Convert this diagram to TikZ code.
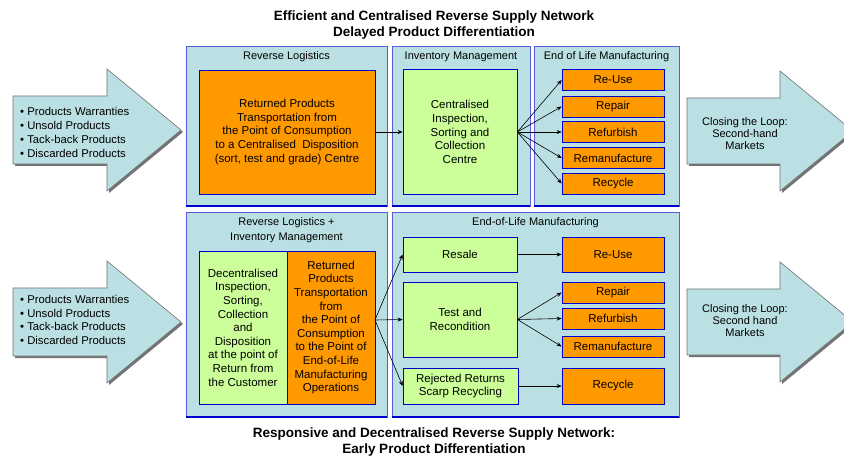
\documentclass[tikz,border=0pt]{standalone}
\usepackage{fontspec}
\setmainfont{Liberation Sans}
\usetikzlibrary{arrows.meta}
\definecolor{panelc}{RGB}{187,224,227}
\definecolor{arrowc}{RGB}{187,224,227}
\definecolor{orangec}{RGB}{255,153,0}
\definecolor{greenc}{RGB}{204,255,153}
\definecolor{bluec}{RGB}{0,0,204}
\definecolor{lbluec}{RGB}{90,90,220}
\begin{document}
\begin{tikzpicture}[x=1pt,y=-1pt,
  panel/.style={fill=panelc, draw=lbluec, line width=0.7pt, inner sep=0pt},
  obox/.style={fill=orangec, draw=bluec, line width=0.7pt, inner sep=0pt, align=center, font=\fontsize{11.5}{13.6}\selectfont},
  gbox/.style={fill=greenc, draw=bluec, line width=0.7pt, inner sep=0pt, align=center, font=\fontsize{11.5}{13.6}\selectfont},
  ptitle/.style={font=\fontsize{11}{15}\selectfont, align=center, inner sep=0pt},
  htitle/.style={font=\bfseries\fontsize{13.5}{16}\selectfont, align=center, inner sep=0pt},
  conn/.style={-{Stealth[length=5pt,width=4pt]}, line width=0.6pt},
  bigarrow/.style={fill=arrowc, draw=black!55, line width=0.6pt},
  arrowshadow/.style={fill=black!55, draw=none},
  atext/.style={font=\fontsize{11.3}{13.7}\selectfont, align=left, inner sep=0pt},
  rtext/.style={font=\fontsize{11}{12}\selectfont, align=center, inner sep=0pt},
  bottomedge/.style={draw=bluec, line width=2pt}
]
\useasboundingbox (0,0) rectangle (844,457);
\clip (0,0) rectangle (844,457);
\fill[white] (0,0) rectangle (844,457);

% titles
\node[htitle] (t1) at (434,25.5) {Efficient and Centralised Reverse Supply Network\\Delayed Product Differentiation};
\node[htitle] (t2) at (434,442) {Responsive and Decentralised Reverse Supply Network:\\Early Product Differentiation};

% big arrows (left)
\foreach \c in {130,322}{
  \begin{scope}[shift={(2,2)}]
    \fill[arrowshadow] (13,\c-34) -- (107,\c-34) -- (107,\c-61) -- (181,\c) -- (107,\c+61) -- (107,\c+34) -- (13,\c+34) -- cycle;
  \end{scope}
  \draw[bigarrow] (13,\c-34) -- (107,\c-34) -- (107,\c-61) -- (181,\c) -- (107,\c+61) -- (107,\c+34) -- (13,\c+34) -- cycle;
}
% big arrows (right)
\foreach \c in {131,322}{
  \begin{scope}[shift={(2,2)}]
    \fill[arrowshadow] (687,\c-33) -- (780,\c-33) -- (780,\c-60) -- (853,\c) -- (780,\c+60) -- (780,\c+33) -- (687,\c+33) -- cycle;
  \end{scope}
  \draw[bigarrow] (687,\c-33) -- (780,\c-33) -- (780,\c-60) -- (853,\c) -- (780,\c+60) -- (780,\c+33) -- (687,\c+33) -- cycle;
}
\node[atext, anchor=west] (in1) at (20,132.5) {• Products Warranties\\• Unsold Products\\• Tack-back Products\\• Discarded Products};
\node[atext, anchor=west] (in2) at (20,320) {• Products Warranties\\• Unsold Products\\• Tack-back Products\\• Discarded Products};
\node[rtext] (out1) at (745,134) {Closing the Loop:\\Second-hand\\Markets};
\node[rtext] (out2) at (745,321) {Closing the Loop:\\Second hand\\Markets};

% top panels
\node[panel, minimum width=201, minimum height=160] (p1) at (286.5,126) {};
\node[panel, minimum width=138, minimum height=160] (p2) at (461,126) {};
\node[panel, minimum width=145, minimum height=160] (p3) at (606.5,126) {};
% bottom panels
\node[panel, minimum width=201, minimum height=205] (p4) at (286.5,314.5) {};
\node[panel, minimum width=287, minimum height=205] (p5) at (535.5,314.5) {};
\foreach \p in {p1,p2,p3,p4,p5}{
  \draw[bottomedge] (\p.south west) -- (\p.south east);
}

\node[ptitle] (p1t) at (286.5,57) {Reverse Logistics};
\node[ptitle] (p2t) at (461,57) {Inventory Management};
\node[ptitle] (p3t) at (606.5,57) {End of Life Manufacturing};
\node[ptitle] (p4t) at (286.5,230.5) {Reverse Logistics +\\Inventory Management};
\node[ptitle] (p5t) at (535.5,223) {End-of-Life Manufacturing};

% top boxes
\node[obox, minimum width=176, minimum height=124] (rl) at (287,132) {Returned Products\\Transportation from\\the Point of Consumption\\to a Centralised\ \ Disposition\\(sort, test and grade) Centre};
\node[gbox, minimum width=114, minimum height=125] (cic) at (460,132) {Centralised\\Inspection,\\Sorting and\\Collection\\Centre};
\node[obox, minimum width=102, minimum height=21] (reuse1) at (613,80) {Re-Use};
\node[obox, minimum width=102, minimum height=21] (repair1) at (613,106.5) {Repair};
\node[obox, minimum width=102, minimum height=21] (refurb1) at (613,132) {Refurbish};
\node[obox, minimum width=102, minimum height=21] (reman1) at (613,158) {Remanufacture};
\node[obox, minimum width=102, minimum height=21] (recyc1) at (613,183.5) {Recycle};

\draw[conn] (rl.east) -- (cic.west);
\foreach \t in {reuse1,repair1,refurb1,reman1,recyc1}{
  \draw[conn] (cic.east) -- (\t.west);
}

% bottom boxes
\node[gbox, minimum width=88, minimum height=153] (dic) at (243,327.5) {Decentralised\\Inspection,\\Sorting,\\Collection\\and\\Disposition\\at the point of\\Return from\\the Customer};
\node[obox, minimum width=88, minimum height=153] (rt) at (331,327.5) {Returned\\Products\\Transportation\\from\\the Point of\\Consumption\\to the Point of\\End-of-Life\\Manufacturing\\Operations};
\node[gbox, minimum width=114, minimum height=35] (resale) at (460,254.5) {Resale};
\node[gbox, minimum width=114, minimum height=75] (test) at (460,319.5) {Test and\\Recondition};
\node[gbox, minimum width=115, minimum height=36] (rej) at (460.5,386) {Rejected Returns\\Scarp Recycling};
\node[obox, minimum width=102, minimum height=35] (reuse2) at (613,254.5) {Re-Use};
\node[obox, minimum width=102, minimum height=21] (repair2) at (613,292.5) {Repair};
\node[obox, minimum width=102, minimum height=21] (refurb2) at (613,318.5) {Refurbish};
\node[obox, minimum width=102, minimum height=21] (reman2) at (613,346.5) {Remanufacture};
\node[obox, minimum width=102, minimum height=36] (recyc2) at (613,386) {Recycle};

\coordinate (rtout) at (375,320);
\foreach \t in {resale,test,rej}{
  \draw[conn] (rtout) -- (\t.west);
}
\draw[conn, line width=1.3pt] (resale.east) -- (reuse2.west);
\foreach \t in {repair2,refurb2,reman2}{
  \draw[conn] (test.east) -- (\t.west);
}
\draw[conn] (rej.east) -- (recyc2.west);
\end{tikzpicture}
\end{document}
